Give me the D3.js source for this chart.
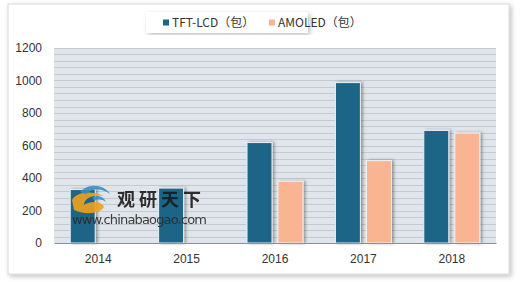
<!DOCTYPE html>
<html>
<head>
<meta charset="utf-8">
<script src="https://cdn.jsdelivr.net/npm/d3@7"></script>
<style>
  html, body { margin: 0; padding: 0; background: #fff; }
  svg { display: block; font-family: "Noto Sans CJK SC", "Noto Sans", sans-serif; }
</style>
</head>
<body>
<div id="wrapper"></div>
<script>
const years = ["2014", "2015", "2016", "2017", "2018"]
const tftValues = [329, 338, 618, 987, 693]
const amoledValues = [0, 0, 380, 507, 677]
const seriesNames = ["TFT-LCD（包）", "AMOLED（包）"]
const seriesColors = ["#1b6587", "#f9b591"]
const yTicks = [0, 200, 400, 600, 800, 1000, 1200]

const dimensions = {
    width: 520,
    height: 282,
    margin: { top: 48, right: 24, bottom: 39, left: 54 },
}
dimensions.boundedWidth = dimensions.width - dimensions.margin.left - dimensions.margin.right
dimensions.boundedHeight = dimensions.height - dimensions.margin.top - dimensions.margin.bottom

const svg = d3.select("#wrapper")
              .append("svg")
              .attr("width", dimensions.width)
              .attr("height", dimensions.height)

const defs = svg.append("defs")
const frameShadow = defs.append("filter").attr("id", "frameShadow")
                        .attr("x", "-5%").attr("y", "-5%").attr("width", "110%").attr("height", "112%")
frameShadow.append("feDropShadow").attr("dx", 2).attr("dy", 2).attr("stdDeviation", 2.5)
           .attr("flood-color", "#000").attr("flood-opacity", 0.25)
const barShadow = defs.append("filter").attr("id", "barShadow")
                      .attr("x", "-30%").attr("y", "-10%").attr("width", "160%").attr("height", "120%")
barShadow.append("feDropShadow").attr("dx", 2).attr("dy", 0).attr("stdDeviation", 1.5)
         .attr("flood-color", "#000").attr("flood-opacity", 0.35)

// outer frame
svg.append("rect")
   .attr("x", 8).attr("y", 4)
   .attr("width", 501).attr("height", 270)
   .attr("fill", "#fff")
   .attr("stroke", "#d9d9d9")
   .attr("filter", "url(#frameShadow)")

const bounds = svg.append("g")
                  .attr("transform", `translate(${dimensions.margin.left},${dimensions.margin.top})`)

const xScale = d3.scaleBand()
                 .domain(years)
                 .range([0, dimensions.boundedWidth])

const yScale = d3.scaleLinear()
                 .domain([0, 1200])
                 .range([dimensions.boundedHeight, 0])

// plot background + gridlines every 40
bounds.append("rect")
      .attr("width", dimensions.boundedWidth)
      .attr("height", dimensions.boundedHeight)
      .attr("fill", "#dfe5ea")

bounds.append("g")
      .selectAll("line")
      .data(d3.range(40, 1201, 40))
      .join("line")
      .attr("x1", 0)
      .attr("x2", dimensions.boundedWidth)
      .attr("y1", d => Math.round(yScale(d)) + 0.5)
      .attr("y2", d => Math.round(yScale(d)) + 0.5)
      .attr("stroke", "#c4cad0")
      .attr("stroke-width", 1)

// bars
const barWidth = 25
const barGap = 6
const groupWidth = barWidth * 2 + barGap
const series = [tftValues, amoledValues]

series.forEach((values, s) => {
    bounds.append("g")
          .selectAll("rect")
          .data(values.map((v, i) => ({ year: years[i], value: v })).filter(d => d.value > 0))
          .join("rect")
          .attr("x", d => xScale(d.year) + (xScale.bandwidth() - groupWidth) / 2 + s * (barWidth + barGap))
          .attr("y", d => yScale(d.value))
          .attr("width", barWidth)
          .attr("height", d => dimensions.boundedHeight - yScale(d.value))
          .attr("fill", seriesColors[s])
          .attr("stroke", "#eef2f5")
          .attr("stroke-width", 1)
          .attr("filter", "url(#barShadow)")
})

// axes
const yAxisGenerator = d3.axisLeft(yScale)
                         .tickValues(yTicks)
                         .tickFormat(d3.format("d"))
                         .tickSize(0)
                         .tickPadding(12)

const yAxis = bounds.append("g").call(yAxisGenerator)
yAxis.select(".domain").remove()
yAxis.selectAll("text")
     .attr("fill", "#333")
     .style("font-size", "12px")

const xAxisGenerator = d3.axisBottom(xScale)
                         .tickSize(0)
                         .tickPadding(11)

const xAxis = bounds.append("g")
                    .attr("transform", `translate(0,${dimensions.boundedHeight})`)
                    .call(xAxisGenerator)
xAxis.select(".domain").attr("stroke", "#8a8f94").attr("stroke-width", 1.2)
xAxis.selectAll("text")
     .attr("fill", "#333")
     .style("font-size", "12px")

// legend
const legend = svg.append("g")
legend.append("rect")
      .attr("x", 146).attr("y", 12)
      .attr("width", 162).attr("height", 21)
      .attr("fill", "#fff")
      .attr("filter", "url(#frameShadow)")

const legendItems = legend.selectAll("g.item")
                          .data(seriesNames)
                          .join("g")
                          .attr("class", "item")
                          .attr("transform", (d, i) => `translate(${163 + i * 106},23)`)
legendItems.append("rect")
           .attr("x", 0).attr("y", -3.5)
           .attr("width", 6).attr("height", 6)
           .attr("fill", (d, i) => seriesColors[i])
legendItems.append("text")
           .attr("x", 9)
           .attr("dy", "0.35em")
           .attr("fill", "#333")
           .style("font-size", "12px")
           .text(d => d)

// watermark
const mark = svg.append("g").attr("opacity", 0.9)
mark.append("path")
    .attr("d", "M72,200 C76,192 92,190 104,196 C94,194 84,198 84,205 C92,200 102,202 104,207 C100,214 84,215 74,210 Z")
    .attr("fill", "#f0a21d")
mark.append("path")
    .attr("d", "M80,192 C88,183 104,184 110,194 C102,188 92,188 86,194 Z")
    .attr("fill", "#3a8fc4")
mark.append("path")
    .attr("d", "M92,198 C96,194 104,196 106,202 C102,199 97,199 95,201 Z")
    .attr("fill", "#3a8fc4")
mark.append("text")
    .attr("x", 117).attr("y", 206)
    .attr("fill", "#1a1a1a")
    .style("font-size", "18px")
    .style("font-weight", "bold")
    .style("letter-spacing", "4px")
    .text("观研天下")
mark.append("text")
    .attr("x", 72).attr("y", 224)
    .attr("fill", "#2a2a2a")
    .style("font-size", "13px")
    .style("font-family", "'DejaVu Sans', sans-serif")
    .attr("textLength", 135)
    .text("www.chinabaogao.com")
</script>
</body>
</html>
